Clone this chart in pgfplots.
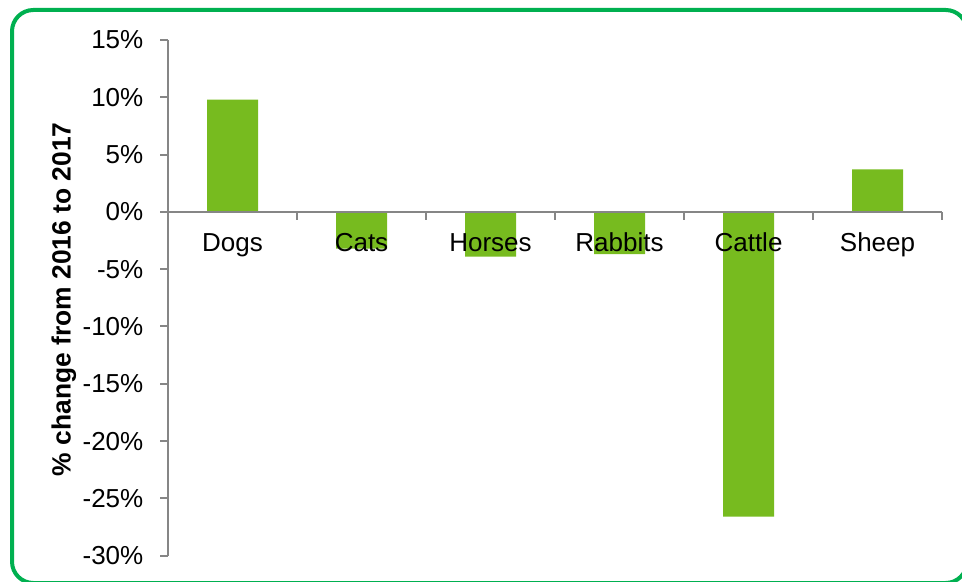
\documentclass[border=0pt]{standalone}
\usepackage{pgfplots}
\pgfplotsset{compat=1.18}
\usepackage{fontspec}
\setmainfont{Liberation Sans}
\definecolor{bargreen}{RGB}{119,187,31}
\definecolor{framegreen}{RGB}{0,176,80}
\definecolor{axgray}{RGB}{134,134,134}
\begin{document}
\begin{tikzpicture}
\useasboundingbox (0,0) rectangle (721.5pt,435.75pt);
\begin{scope}
\clip (0,0) rectangle (721.5pt,435.75pt);
\draw[framegreen, line width=3pt, rounded corners=16pt] (9pt,-1.5pt) rectangle (725.25pt,428.25pt);
\end{scope}
\begin{axis}[
  at={(126pt,19pt)}, anchor=south west,
  scale only axis, width=580.5pt, height=386.8pt,
  xmin=-0.5, xmax=5.5, ymin=-30, ymax=15,
  axis x line*=middle, axis y line*=left,
  axis line style={axgray, line width=1.5pt},
  axis on top,
  ybar, bar width=38.25pt,
  xtick={0,1,2,3,4,5},
  xticklabels={Dogs,Cats,Horses,Rabbits,Cattle,Sheep},
  minor xtick={-0.5,0.5,1.5,2.5,3.5,4.5,5.5},
  major x tick style={draw=none},
  minor x tick style={axgray, line width=1.5pt},
  minor tick length=6pt,
  ytick={-30,-25,-20,-15,-10,-5,0,5,10,15},
  yticklabels={-30\%,-25\%,-20\%,-15\%,-10\%,-5\%,0\%,5\%,10\%,15\%},
  y tick style={axgray, line width=1.5pt},
  major tick length=6pt,
  tick align=outside,
  tick label style={font=\fontsize{19.5}{23}\selectfont, text=black},
  x tick label style={anchor=base, yshift=-24pt},
  y tick label style={xshift=-9pt},
  ylabel={\bfseries \% change from 2016 to 2017},
  ylabel style={font=\fontsize{19.8}{23}\selectfont, at={(axis description cs:-0.1344,0.497)}, anchor=center, rotate=0},
]
\addplot[fill=bargreen, draw=none] coordinates {(0,9.8) (1,-3.2) (2,-3.9) (3,-3.7) (4,-26.6) (5,3.7)};
\end{axis}
\end{tikzpicture}
\end{document}
